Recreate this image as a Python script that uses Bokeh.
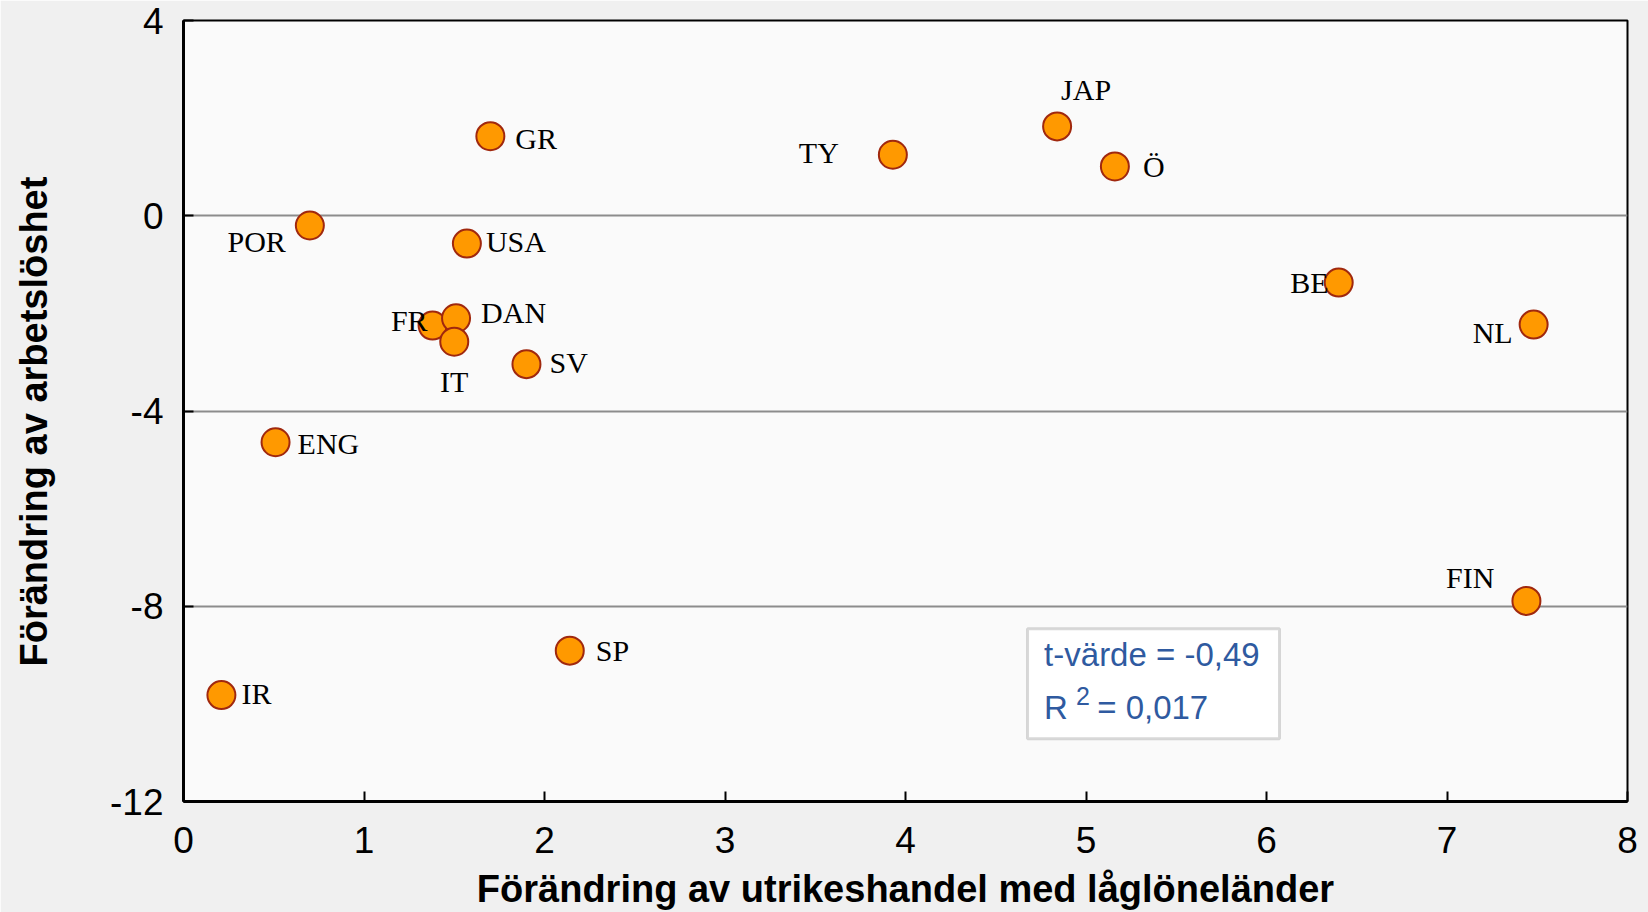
from bokeh.plotting import figure
from bokeh.models import ColumnDataSource, FixedTicker, Range1d, BoxAnnotation, Label
from bokeh.core.properties import value
from bokeh.embed import file_html
from bokeh.resources import INLINE

# Data
countries = ["GR", "TY", "JAP", "Ö", "POR", "USA", "BE", "NL", "FR", "DAN",
             "IT", "SV", "ENG", "FIN", "SP", "IR"]
trade_change = [1.70, 3.93, 4.84, 5.16, 0.70, 1.57, 6.40, 7.48, 1.38, 1.51,
                1.50, 1.90, 0.51, 7.44, 2.14, 0.21]
unemp_change = [1.63, 1.25, 1.83, 1.01, -0.20, -0.57, -1.37, -2.23, -2.25, -2.10,
                -2.58, -3.04, -4.64, -7.89, -8.91, -9.82]

x_ticks = [0, 1, 2, 3, 4, 5, 6, 7, 8]
y_ticks = [-12, -8, -4, 0, 4]
y_tick_text = {-12: "-12", -8: "-8", -4: "-4", 0: "0", 4: "4"}
grid_lines = [-8, -4, 0]
x_title = "Förändring av utrikeshandel med låglöneländer"
y_title = "Förändring av arbetslöshet"
t_text = "t-värde = -0,49"
r2_value = "= 0,017"

# label placement (screen px offsets, alignment) - styling only
lab_dx = [25, -54, 29, 28, -24, 19, -10, -21, -5, 25, 0, 23, 22, -32, 26, 20]
lab_dy = [2, -2, -37, 0, 16, -2, 0, 8, -5, -6, 40, -2, 1, -23, 0, -2]
lab_align = ["left", "right", "center", "left", "right", "left", "right", "right",
             "right", "left", "center", "left", "left", "right", "left", "left"]

src = ColumnDataSource(dict(x=trade_change, y=unemp_change, name=countries,
                            dx=lab_dx, dy=lab_dy, align=lab_align))

p = figure(width=1648, height=912, x_range=Range1d(0, 8), y_range=Range1d(-12, 4),
           output_backend="svg", toolbar_location=None,
           min_border_left=183, min_border_right=21, min_border_top=20,
           min_border_bottom=111)

p.background_fill_color = "#FAFAFA"
p.border_fill_color = "#F0F0F0"
p.outline_line_color = "black"
p.outline_line_width = 2

p.xgrid.visible = False
p.ygrid.ticker = FixedTicker(ticks=grid_lines)
p.ygrid.grid_line_color = "#8C8C8C"
p.ygrid.grid_line_width = 2

for ax in (p.xaxis[0], p.yaxis[0]):
    ax.axis_line_width = 3
    ax.axis_line_color = "black"
    ax.major_tick_in = 10
    ax.major_tick_out = 0
    ax.major_tick_line_width = 2
    ax.minor_tick_line_color = None
    ax.major_label_text_font = "Liberation Sans"
    ax.major_label_text_font_size = "37px"
    ax.major_label_text_color = "black"
    ax.axis_label_text_font = "Liberation Sans"
    ax.axis_label_text_font_style = "bold"
    ax.axis_label_text_font_size = "38px"
    ax.axis_label_text_color = "black"

p.xaxis.ticker = FixedTicker(ticks=x_ticks)
p.yaxis.ticker = FixedTicker(ticks=y_ticks)
p.yaxis.major_label_overrides = y_tick_text
p.xaxis.axis_label = x_title
p.yaxis.axis_label = y_title + "\u00a0\u00a0"
p.xaxis.major_label_standoff = 25
p.yaxis.major_label_standoff = 20
p.xaxis.axis_label_standoff = 12
p.yaxis.axis_label_standoff = 52

p.scatter("x", "y", source=src, size=28, fill_color="#FF9900",
          line_color="#A0280E", line_width=2)

p.text("x", "y", text="name", source=src, x_offset="dx", y_offset="dy",
       text_align="align", text_baseline="middle",
       text_font=value("Liberation Serif"), text_font_size="30px", text_color="black")

# statistics box
box = BoxAnnotation(left=4.676, right=6.072, top=-8.463, bottom=-10.717,
                    fill_color="white", fill_alpha=1.0,
                    line_color="#808080", line_width=3)
p.add_layout(box)

blue = "#2F5AA0"
p.add_layout(Label(x=4.768, y=-8.99, text=t_text, text_baseline="middle",
                   text_font="Liberation Sans", text_font_size="33px", text_color=blue))
p.add_layout(Label(x=4.768, y=-10.08, text="R", text_baseline="middle",
                   text_font="Liberation Sans", text_font_size="33px", text_color=blue))
p.add_layout(Label(x=4.945, y=-9.84, text="2", text_baseline="middle",
                   text_font="Liberation Sans", text_font_size="25px", text_color=blue))
p.add_layout(Label(x=5.062, y=-10.08, text=r2_value, text_baseline="middle",
                   text_font="Liberation Sans", text_font_size="33px", text_color=blue))

open("out.html", "w").write(file_html(p, INLINE))
